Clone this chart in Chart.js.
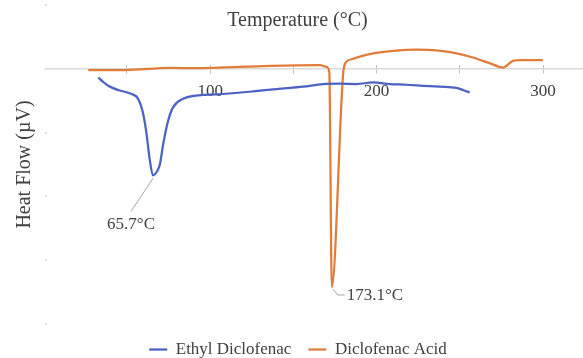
<!DOCTYPE html>
<html>
<head>
<meta charset="utf-8">
<script src="https://cdn.jsdelivr.net/npm/chart.js@4/dist/chart.umd.min.js"></script>
<style>
  html, body { margin: 0; padding: 0; background: #ffffff; }
  #wrap { width: 583px; height: 358px; position: relative; }
</style>
</head>
<body>
<div id="wrap"><canvas id="dsc"></canvas></div>
<script>
// DSC thermograms: heat flow versus temperature
const temperatureTicks = [100, 200, 300];
const seriesNames = ['Ethyl Diclofenac', 'Diclofenac Acid'];
const peakTemps = [65.7, 173.1];

const ethylTemp = [32.8, 35.5, 38.8, 44.8, 52.8, 56.8, 59.8, 61.8, 63.8, 65.7, 68.0, 69.8, 71.8, 74.8, 77.8,
  83.8, 95.8, 107.8, 125.8, 139.9, 155.8, 167.8, 177.9, 187.9, 197.8, 207.9, 217.9, 227.9, 237.9, 247.9, 251.9, 255.9];
const ethylHeat = [-0.136, -0.20, -0.266, -0.333, -0.395, -0.473, -0.708, -1.02, -1.44, -1.67, -1.61, -1.50, -1.18, -0.81, -0.60,
  -0.47, -0.41, -0.395, -0.355, -0.317, -0.281, -0.239, -0.234, -0.239, -0.214, -0.239, -0.25, -0.266, -0.281, -0.30, -0.333, -0.37];

const acidTemp = [26.8, 48.8, 75.8, 90.8, 135.8, 165.8, 170.0, 171.6, 173.1, 179.9, 181.5, 184.9, 195.9, 209.8,
  223.9, 235.9, 245.9, 257.9, 267.9, 275.9, 281.9, 285.9, 299.9];
const acidHeat = [-0.02, -0.02, 0.015, 0.01, 0.047, 0.058, 0.03, -0.05, -3.42, -0.08, 0.10, 0.15, 0.23, 0.28,
  0.30, 0.29, 0.255, 0.177, 0.089, 0.02, 0.125, 0.136, 0.136];

const BLUE = '#4b62c3';
const ORANGE = '#e27c3a';
const TEXT = '#404040';
const FONT = "'Liberation Serif', 'Times New Roman', serif";

function toPoints(xs, ys) { return xs.map((x, i) => ({ x: x, y: ys[i] })); }

// Axis title drawn over the plot top, without taking layout space
const topTitle = {
  id: 'topTitle',
  afterDraw(chart) {
    const ctx = chart.ctx;
    ctx.save();
    ctx.font = '20px ' + FONT;
    ctx.fillStyle = TEXT;
    ctx.textAlign = 'center';
    ctx.textBaseline = 'middle';
    ctx.fillText('Temperature (\u00B0C)', chart.width / 2 + 6, 21);
    ctx.restore();
  }
};

// Peak callouts with leader lines, anchored to the data points at the peak temperatures
const peakCallouts = {
  id: 'peakCallouts',
  afterDatasetsDraw(chart) {
    const { ctx, scales } = chart;
    const sx = scales.x, sy = scales.y;
    const series = [[ethylTemp, ethylHeat], [acidTemp, acidHeat]];
    ctx.save();
    ctx.font = '17px ' + FONT;
    ctx.fillStyle = TEXT;
    ctx.strokeStyle = '#a6a6a6';
    ctx.lineWidth = 1;
    ctx.textBaseline = 'middle';
    series.forEach(([ts, hs], k) => {
      const idx = ts.indexOf(peakTemps[k]);
      const px = sx.getPixelForValue(ts[idx]);
      const py = sy.getPixelForValue(hs[idx]);
      const label = peakTemps[k].toFixed(1) + '\u00B0C';
      ctx.beginPath();
      if (k === 0) {
        ctx.moveTo(px, py + 3);
        ctx.lineTo(px - 22, py + 36);
        ctx.stroke();
        ctx.textAlign = 'center';
        ctx.fillText(label, px - 22, py + 49);
      } else {
        ctx.moveTo(px + 1, py + 2);
        ctx.lineTo(px + 6, py + 8);
        ctx.lineTo(px + 13, py + 8);
        ctx.stroke();
        ctx.textAlign = 'left';
        ctx.fillText(label, px + 15, py + 9);
      }
    });
    ctx.restore();
  }
};

Chart.defaults.font.family = FONT;
Chart.defaults.color = TEXT;

const tempAxisCommon = {
  type: 'linear',
  position: { y: 0 },
  min: 2,
  max: 324
};

new Chart(document.getElementById('dsc'), {
  type: 'line',
  data: {
    datasets: [
      {
        label: seriesNames[0],
        data: toPoints(ethylTemp, ethylHeat),
        borderColor: BLUE,
        backgroundColor: BLUE,
        borderWidth: 2.25,
        pointRadius: 0,
        cubicInterpolationMode: 'monotone'
      },
      {
        label: seriesNames[1],
        data: toPoints(acidTemp, acidHeat),
        borderColor: ORANGE,
        backgroundColor: ORANGE,
        borderWidth: 2.25,
        pointRadius: 0,
        cubicInterpolationMode: 'monotone'
      }
    ]
  },
  options: {
    responsive: true,
    maintainAspectRatio: false,
    animation: false,
    layout: { padding: { top: 5, right: 0, bottom: -10, left: 13 } },
    scales: {
      x: Object.assign({}, tempAxisCommon, {
        ticks: {
          stepSize: 50,
          includeBounds: false,
          padding: 9,
          font: { size: 17 },
          color: TEXT,
          autoSkip: false,
          maxRotation: 0,
          callback: (v) => temperatureTicks.includes(v) ? String(v) : ''
        },
        grid: { drawOnChartArea: false, drawTicks: true, tickLength: 4, color: '#bfbfbf', lineWidth: 1 },
        border: { display: true, color: '#d9d9d9', width: 1.5 }
      }),
      xUp: Object.assign({}, tempAxisCommon, {
        ticks: { stepSize: 50, includeBounds: false, display: false },
        grid: { drawOnChartArea: false, drawTicks: true, tickLength: -4, color: '#bfbfbf', lineWidth: 1 },
        border: { display: false }
      }),
      y: {
        type: 'linear',
        position: 'left',
        min: -4,
        max: 1,
        ticks: { stepSize: 1, display: false },
        grid: { drawOnChartArea: false, drawTicks: true, tickLength: 2, color: '#dcdcdc', lineWidth: 2 },
        border: { display: false },
        title: { display: true, text: 'Heat Flow (\u00B5V)', font: { size: 20 }, color: TEXT, padding: { top: 0, bottom: 8 } }
      }
    },
    plugins: {
      legend: {
        position: 'bottom',
        labels: {
          usePointStyle: true,
          pointStyle: 'line',
          pointStyleWidth: 18,
          boxHeight: 17,
          padding: 17,
          font: { size: 17 },
          color: TEXT
        }
      },
      tooltip: { enabled: false }
    }
  },
  plugins: [topTitle, peakCallouts]
});
</script>
</body>
</html>
